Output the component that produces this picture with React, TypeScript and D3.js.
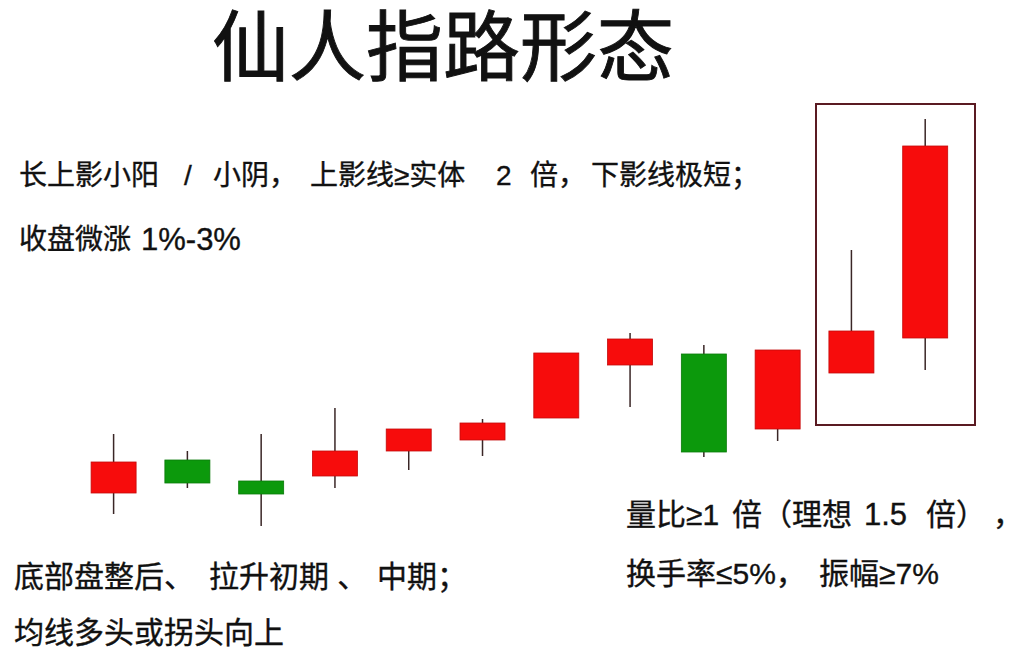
import React from "react";
import * as d3 from "d3";

const W = 1024;
const H = 653;

// Candle data (price units)
const opens = [10.7, 14.0, 11.9, 12.4, 14.9, 16.0, 18.2, 23.5, 24.6, 17.1, 22.7, 26.2];
const closes = [13.8, 11.7, 10.6, 14.9, 17.1, 17.7, 24.7, 26.1, 14.8, 25.0, 26.9, 45.4];
const highs = [16.6, 14.9, 16.6, 19.2, 17.1, 18.1, 24.7, 26.7, 25.5, 25.0, 35.0, 48.1];
const lows = [8.6, 11.2, 7.4, 11.2, 13.0, 14.4, 18.2, 19.3, 14.3, 15.9, 22.7, 23.0];

// highlight box around last two candles (index units / price units)
const highlightIdx = [9.52, 11.675];
const highlightPrice = [17.5, 49.6];

type Seg = { t: string; x: number; s?: number };

const titleText = "仙人指路形态";
const topLine1: Seg[] = [
  { t: "长上影小阳 ", x: 19 },
  { t: "/ ", x: 184 },
  { t: "小阴，", x: 213 },
  { t: "上影线≥实体 ", x: 310 },
  { t: "2 ", x: 496 },
  { t: "倍，", x: 530 },
  { t: "下影线极短；", x: 591 },
];
const topLine2: Seg[] = [
  { t: "收盘微涨 ", x: 19 },
  { t: "1%-3%", x: 141, s: 31 },
];
const rightLine1: Seg[] = [
  { t: "量比≥1 ", x: 626 },
  { t: "倍（理想 ", x: 732 },
  { t: "1.5 ", x: 864, s: 31 },
  { t: "倍）", x: 926 },
  { t: "，", x: 993 },
];
const rightLine2: Seg[] = [
  { t: "换手率≤5%，", x: 626 },
  { t: "振幅≥7%", x: 819 },
];
const bottomLine1: Seg[] = [
  { t: "底部盘整后、", x: 14 },
  { t: "拉升初期 、", x: 209 },
  { t: "中期；", x: 377 },
];
const bottomLine2: Seg[] = [{ t: "均线多头或拐头向上", x: 14 }];

const FONT = "'Liberation Sans', 'Noto Sans CJK SC', sans-serif";
const RED = "#f70c0c";
const GREEN = "#0c990c";
const INK = "#111";

function Line({ segs, y, size }: { segs: Seg[]; y: number; size: number }) {
  return (
    <text
      y={y}
      fontSize={size}
      fontFamily={FONT}
      fill={INK}
      stroke={INK}
      strokeWidth={0.35}
      dominantBaseline="central"
    >
      {segs.map((s, i) => (
        <tspan key={i} x={s.x} fontSize={s.s ?? size}>
          {s.t}
        </tspan>
      ))}
    </text>
  );
}

export default function App() {
  const idx = d3.range(opens.length);
  const x = d3.scaleLinear().domain([0, 11]).range([113.6, 925.2]);
  const y = d3.scaleLinear().domain([0, 50]).range([600, 100]);
  const step = x(1) - x(0);
  const bw = step * 0.61;

  return (
    <svg width={W} height={H} style={{ position: "absolute", left: 0, top: 0, background: "#fff" }}>
      <rect width={W} height={H} fill="#fff" />
      <text
        x={212}
        y={48}
        fontSize={77}
        fontFamily={FONT}
        fill={INK}
        stroke={INK}
        strokeWidth={0.9}
        dominantBaseline="central"
      >
        {titleText}
      </text>
      <Line segs={topLine1} y={175} size={28} />
      <Line segs={topLine2} y={239} size={28} />
      <Line segs={rightLine1} y={514} size={30} />
      <Line segs={rightLine2} y={573} size={30} />
      <Line segs={bottomLine1} y={576} size={30} />
      <Line segs={bottomLine2} y={632} size={30} />

      {idx.map((i) => {
        const up = closes[i] >= opens[i];
        const top = y(Math.max(opens[i], closes[i]));
        const bot = y(Math.min(opens[i], closes[i]));
        const cx = x(i);
        const col = up ? RED : GREEN;
        return (
          <g key={i}>
            <line x1={cx} x2={cx} y1={y(highs[i])} y2={y(lows[i])} stroke="#3a2626" strokeWidth={1.5} />
            <rect
              x={cx - bw / 2}
              y={top}
              width={bw}
              height={bot - top}
              fill={col}
              stroke={up ? "#c40a0a" : "#0a7a0a"}
              strokeWidth={0.8}
            />
          </g>
        );
      })}

      <rect
        x={x(highlightIdx[0])}
        y={y(highlightPrice[1])}
        width={x(highlightIdx[1]) - x(highlightIdx[0])}
        height={y(highlightPrice[0]) - y(highlightPrice[1])}
        fill="none"
        stroke="#5a1a22"
        strokeWidth={2}
      />
    </svg>
  );
}
